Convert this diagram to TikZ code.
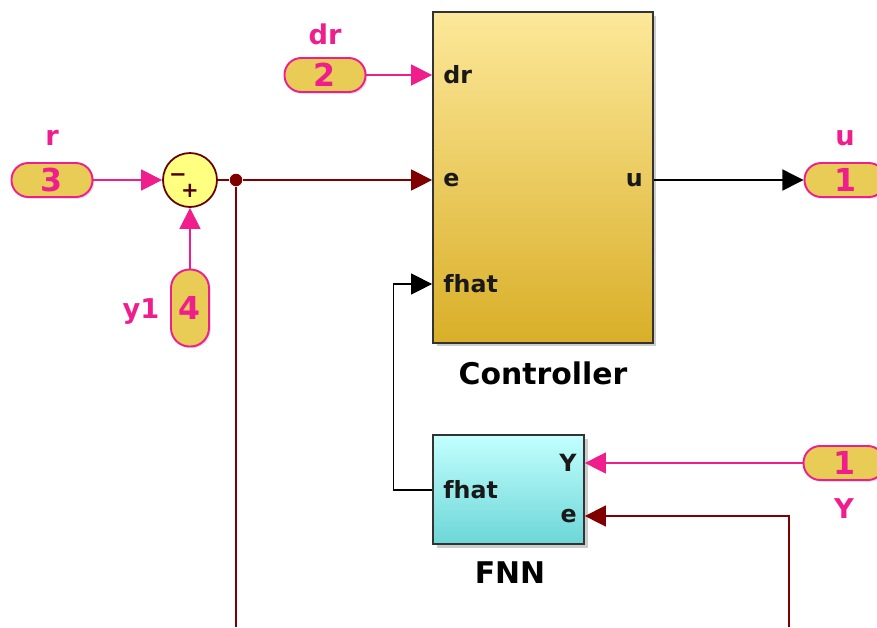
\documentclass[tikz,border=0pt]{standalone}
\usepackage{fontspec}
\setmainfont{DejaVu Sans}
\usepackage{xcolor}
\usetikzlibrary{arrows.meta, shadows}

\definecolor{simpink}{RGB}{240,30,140}
\definecolor{pillgelb}{RGB}{232,204,85}
\definecolor{dunkelrot}{RGB}{128,0,0}
\definecolor{summengelb}{RGB}{255,255,128}
\definecolor{ctrloben}{RGB}{253,232,154}
\definecolor{ctrlunten}{RGB}{217,175,40}
\definecolor{fnnoben}{RGB}{195,255,255}
\definecolor{fnnunten}{RGB}{108,214,214}

\begin{document}
\begin{tikzpicture}[x=0.02cm, y=-0.02cm]
    \tikzset{
        eingang/.style={draw=simpink, line width=1.1pt, fill=pillgelb, rounded corners=9.5pt,
            minimum width=1.62cm, minimum height=0.68cm, inner sep=0pt, text=simpink,
            font=\fontsize{18}{18}\selectfont\bfseries,
            drop shadow={shadow xshift=1pt, shadow yshift=-1pt, opacity=0.25}},
        pinktext/.style={text=simpink, inner sep=0pt, font=\fontsize{15.5}{15.5}\selectfont\bfseries},
        block/.style={draw=black!80, line width=1pt, inner sep=0pt,
            drop shadow={shadow xshift=2pt, shadow yshift=-2pt, opacity=0.4}},
        porttext/.style={inner sep=0pt, text=black!90, font=\fontsize{13.5}{13.5}\selectfont\bfseries},
        blocktext/.style={inner sep=0pt, font=\fontsize{17}{17}\selectfont\bfseries},
        summe/.style={circle, draw=dunkelrot!80!black, line width=1pt, fill=summengelb,
            minimum size=1.08cm, inner sep=0pt},
        vorzeichen/.style={inner sep=0pt, text=dunkelrot!60!black, font=\fontsize{12}{12}\selectfont\bfseries},
        punkt/.style={circle, fill=dunkelrot, minimum size=0.25cm, inner sep=0pt},
        spitze/.style={-{Triangle[length=12pt, width=12pt]}},
        signal_pink/.style={spitze, draw=simpink, line width=0.7pt},
        signal_rot/.style={draw=dunkelrot, line width=0.7pt},
        signal_schwarz/.style={spitze, draw=black, line width=0.7pt}
    }

    \useasboundingbox (0,0) rectangle (877,627);

    % --- Bloecke ---
    \node[block, top color=ctrloben, bottom color=ctrlunten, minimum width=4.4cm, minimum height=6.62cm] (ctrl) at (543,177.5) {};
    \node[blocktext] (ctrl_name) at (543,373) {Controller};
    \node[porttext, anchor=west] (ctrl_dr) at (443,75) {dr};
    \node[porttext, anchor=west] (ctrl_e) at (443,180) {e};
    \node[porttext, anchor=west] (ctrl_fhat) at (443,284) {fhat};
    \node[porttext, anchor=east] (ctrl_u) at (643,180) {u};

    \node[block, top color=fnnoben, bottom color=fnnunten, minimum width=3.02cm, minimum height=2.18cm] (fnn) at (508.5,489.5) {};
    \node[blocktext] (fnn_name) at (510,573) {FNN};
    \node[porttext, anchor=east] (fnn_Y) at (577,463) {Y};
    \node[porttext, anchor=east] (fnn_e) at (577,516) {e};
    \node[porttext, anchor=west] (fnn_fhat) at (443,490) {fhat};

    % --- Ein- und Ausgaenge ---
    \node[eingang] (in3) at (52,180) {3};
    \node[pinktext] (lbl_r) at (52,138) {r};
    \node[eingang] (in2) at (325,75) {2};
    \node[pinktext] (lbl_dr) at (325,34) {dr};
    \node[eingang, minimum width=0.76cm, minimum height=1.54cm, rounded corners=10.5pt] (in4) at (190,308) {4};
    \node[pinktext] (lbl_y1) at (141,312) {y1};
    \node[eingang] (out1) at (845,180) {1};
    \node[pinktext] (lbl_u) at (845,138) {u};
    \node[eingang] (in1) at (844,463) {1};
    \node[pinktext] (lbl_Y) at (844,509) {Y};

    % --- Summe ---
    \node[summe] (sum) at (190,180) {};
    \node[vorzeichen] (sum_minus) at (178,178) {−};
    \node[vorzeichen] (sum_plus) at (190,191) {+};
    \node[punkt] (abzweig) at (236,180) {};
    \coordinate (unten_links) at (236,627);
    \coordinate (unten_rechts) at (789,627);

    % --- Signale ---
    \draw[signal_pink] (in3.east) -- (sum.west);
    \draw[signal_pink] (in4.north) -- (sum.south);
    \draw[signal_pink] (in2.east) -- (ctrl.west |- ctrl_dr);
    \draw[signal_rot] (sum.east) -- (abzweig);
    \draw[signal_rot, spitze] (abzweig) -- (ctrl.west |- ctrl_e);
    \draw[signal_rot] (abzweig) -- (unten_links);
    \draw[signal_schwarz] (ctrl.east |- ctrl_u) -- (out1.west);
    \draw[signal_pink] (in1.west) -- (fnn.east |- in1);
    \draw[signal_rot, spitze] (unten_rechts) |- (fnn.east |- fnn_e);
    \draw[signal_schwarz] (fnn.west |- fnn_fhat) -- ++(-39,0) |- (ctrl.west |- ctrl_fhat);

\end{tikzpicture}
\end{document}
